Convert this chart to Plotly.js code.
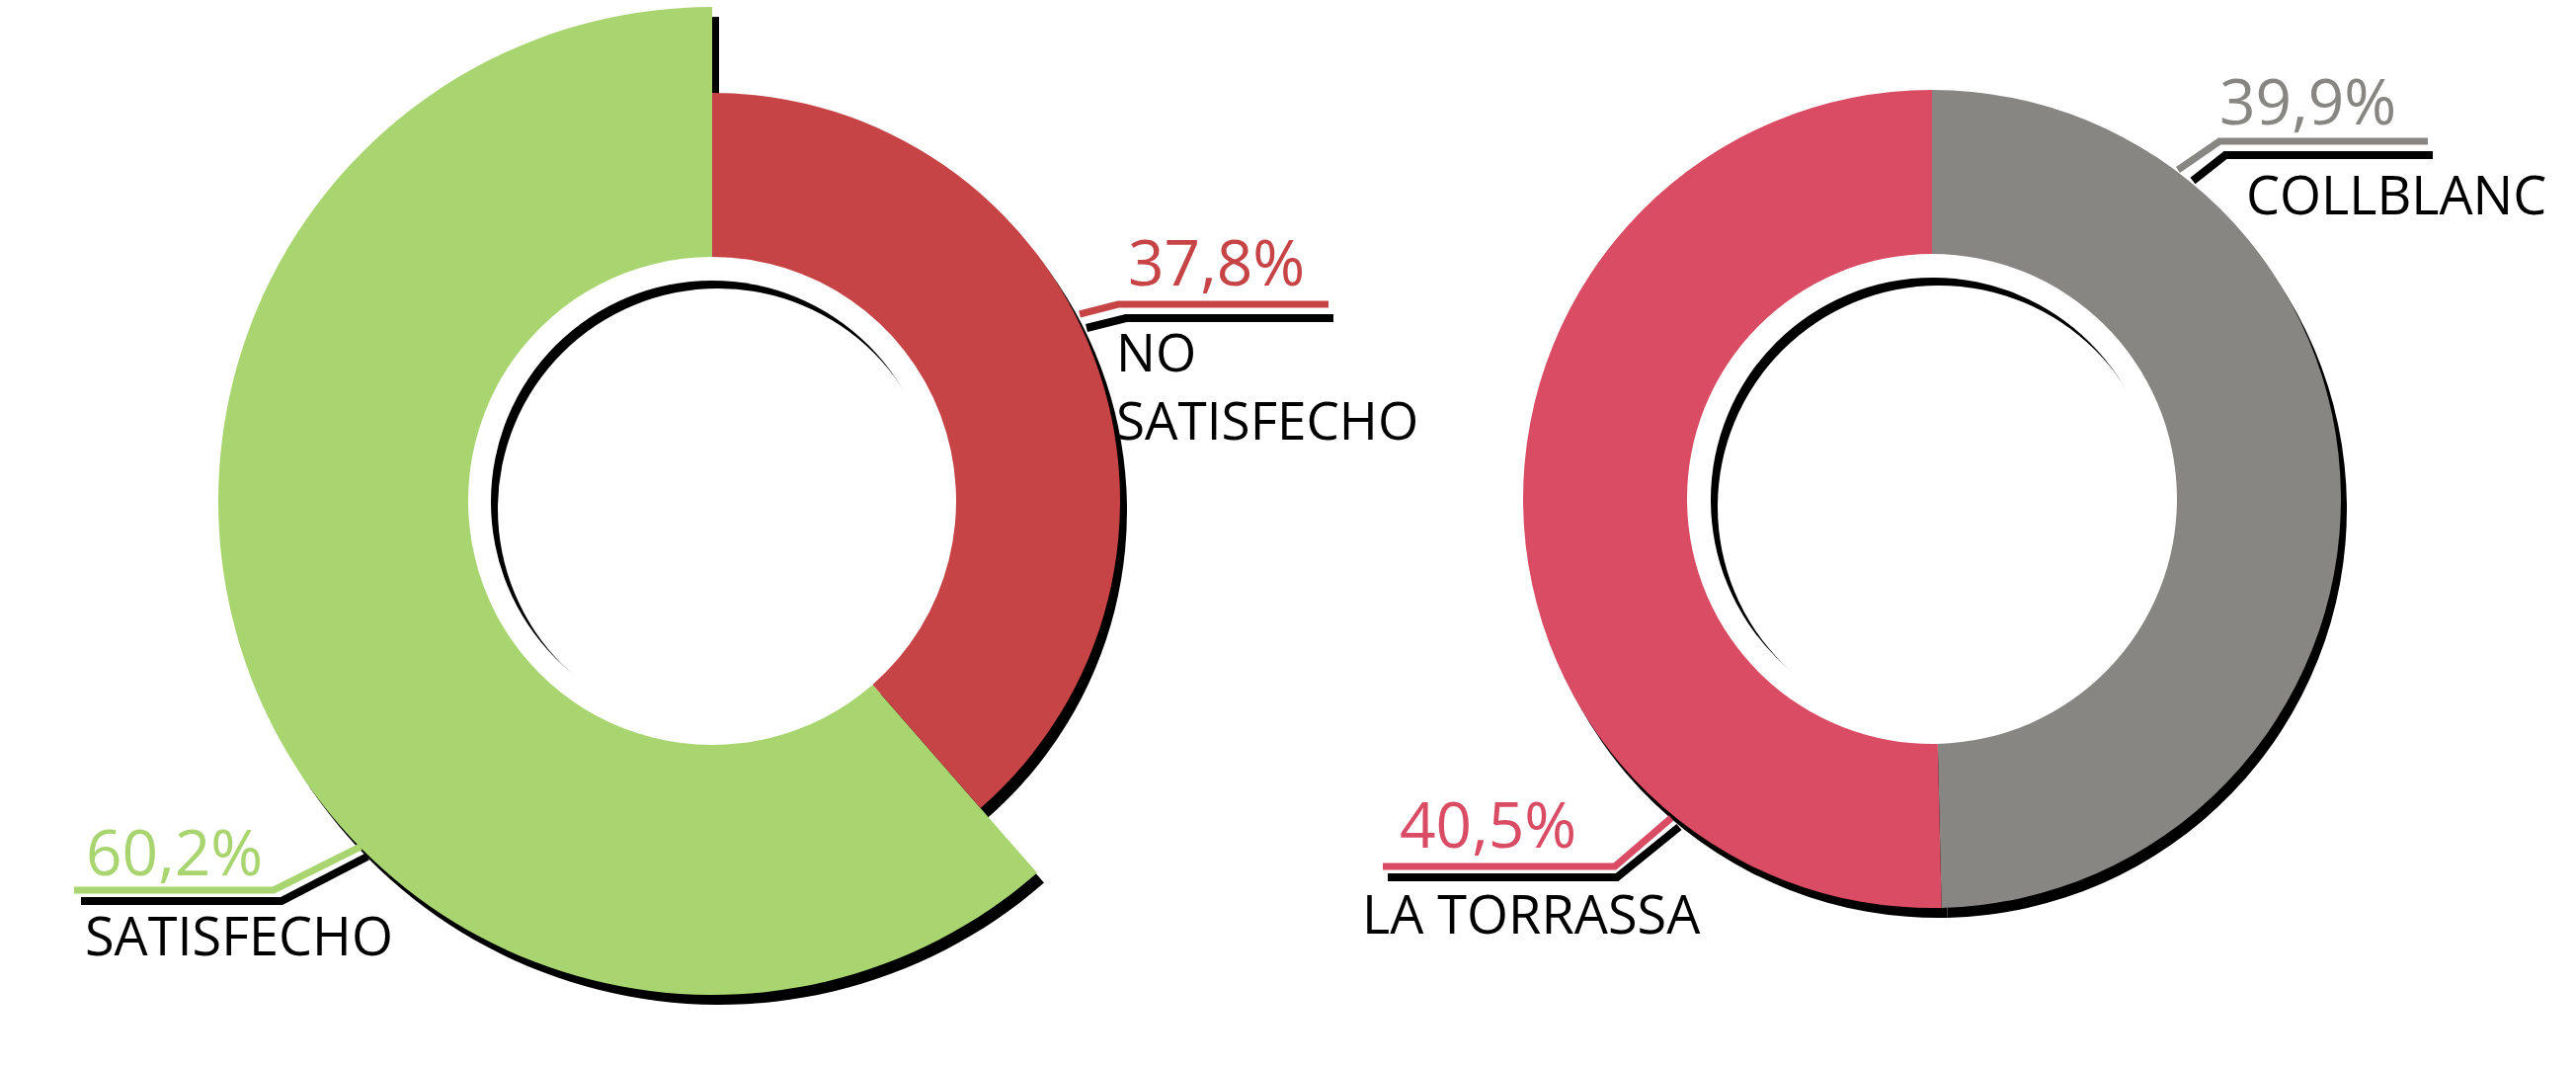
<!DOCTYPE html>
<html>
<head>
<meta charset="utf-8">
<script src="https://cdn.plot.ly/plotly-3.0.1.min.js"></script>
<style>
  html, body { margin: 0; padding: 0; background: #ffffff; }
  #chart { width: 2608px; height: 1080px; }
</style>
</head>
<body>
<div id="chart"></div>
<script>
// ---- data ----
const leftLabels = ['NO SATISFECHO', 'SATISFECHO'];
const leftValues = [37.8, 60.2];
const leftColors = ['#C64446', '#A9D571'];

const rightLabels = ['COLLBLANC', 'LA TORRASSA'];
const rightValues = [39.9, 40.5];
const rightColors = ['#878682', '#D94C63'];

const fullDisk = [1];

// ---- geometry (pixels) ----
const W = 2608, H = 1080;
const SH = {dx: 7, dy: 10};
const leftG = {cx: 721, cy: 507, rBig: 500, rSmall: 413, rHole: 247, rInner: 224};
const rightG = {cx: 1956, cy: 505, r: 414, rHole: 248, rInner: 225};

function dom(cx, cy, r) {
  return {x: [(cx - r) / W, (cx + r) / W], y: [1 - (cy + r) / H, 1 - (cy - r) / H]};
}
const T = 'rgba(0,0,0,0)';
function pie(values, labels, colors, d, hole) {
  return {
    type: 'pie', values: values, labels: labels, sort: false, direction: 'clockwise',
    rotation: 0, hole: hole, domain: d, textinfo: 'none', hoverinfo: 'none',
    marker: {colors: colors, line: {width: 0}}, showlegend: false
  };
}
function disk(cx, cy, r, color) {
  return pie(fullDisk, ['d'], [color], dom(cx, cy, r), 0);
}

const traces = [];
// shadows
traces.push(pie(leftValues, leftLabels, [T, '#000'], dom(leftG.cx + SH.dx, leftG.cy + SH.dy, leftG.rBig), leftG.rHole / leftG.rBig));
traces.push(pie(leftValues, leftLabels, ['#000', T], dom(leftG.cx + SH.dx, leftG.cy + SH.dy, leftG.rSmall), leftG.rHole / leftG.rSmall));
traces.push(pie(rightValues, rightLabels, ['#000', '#000'], dom(rightG.cx + SH.dx - 1, rightG.cy + SH.dy, rightG.r), rightG.rHole / rightG.r));
// cover shadow inside the holes
traces.push(disk(leftG.cx, leftG.cy, leftG.rHole + 2, '#ffffff'));
traces.push(disk(rightG.cx, rightG.cy, rightG.rHole + 2, '#ffffff'));
// coloured rings
traces.push(pie(leftValues, leftLabels, [T, leftColors[1]], dom(leftG.cx, leftG.cy, leftG.rBig), leftG.rHole / leftG.rBig));
traces.push(pie(leftValues, leftLabels, [leftColors[0], T], dom(leftG.cx, leftG.cy, leftG.rSmall), leftG.rHole / leftG.rSmall));
traces.push(pie(rightValues, rightLabels, rightColors, dom(rightG.cx, rightG.cy, rightG.r), rightG.rHole / rightG.r));
// inset inner circle
traces.push(disk(leftG.cx, leftG.cy + 1, leftG.rInner, '#000000'));
traces.push(disk(leftG.cx + 6, leftG.cy + 8, leftG.rInner - 1, '#ffffff'));
traces.push(disk(rightG.cx + 1, rightG.cy + 1, rightG.rInner, '#000000'));
traces.push(disk(rightG.cx + 7, rightG.cy + 8, rightG.rInner - 1, '#ffffff'));

// ---- labels ----
function pct(v) { return v.toFixed(1).replace('.', ',') + '%'; }
const FONT = '"Open Sans", "Noto Sans", sans-serif';
const annotations = [];
function txt(text, x, ymid, size, color) {
  annotations.push({text: text, x: x, y: ymid, xref: 'x', yref: 'y', xanchor: 'left', yanchor: 'middle',
    showarrow: false, font: {family: FONT, size: size, color: color}, borderpad: 0, align: 'left'});
}
txt(pct(leftValues[0]), 1141, 264, 64, leftColors[0]);
txt(leftLabels[0].split(' ').join('<br>'), 1129, 390, 53, '#000');
txt(pct(leftValues[1]), 86, 861, 64, leftColors[1]);
txt(leftLabels[1], 85, 946, 54, '#000');
txt(pct(rightValues[0]), 2246, 101, 64, rightColors[0]);
txt(rightLabels[0], 2273, 196, 54, '#000');
txt(pct(rightValues[1]), 1416, 833, 64, rightColors[1]);
txt(rightLabels[1], 1378, 924, 54, '#000');

const shapes = [];
function leader(pts, color, w) {
  const d = 'M ' + pts.map(p => p[0] + ',' + p[1]).join(' L ');
  shapes.push({type: 'path', path: d, xref: 'x', yref: 'y', layer: 'above',
    line: {color: color, width: w}});
}
leader([[1100, 332], [1140, 322], [1350, 322]], '#000', 8);
leader([[1093, 318], [1132, 308], [1345, 308]], leftColors[0], 7);
leader([[82, 912], [285, 912], [372, 867]], '#000', 8);
leader([[75, 901], [277, 901], [365, 857]], leftColors[1], 7);
leader([[2220, 183], [2253, 157], [2463, 157]], '#000', 8);
leader([[2205, 172], [2247, 143], [2458, 143]], rightColors[0], 7);
leader([[1405, 888], [1637, 888], [1700, 837]], '#000', 8);
leader([[1400, 877], [1635, 877], [1692, 828]], rightColors[1], 7);

const layout = {
  width: W, height: H,
  margin: {l: 0, r: 0, t: 0, b: 0, pad: 0},
  paper_bgcolor: '#ffffff', plot_bgcolor: 'rgba(0,0,0,0)',
  showlegend: false,
  xaxis: {range: [0, W], visible: false, fixedrange: true},
  yaxis: {range: [H, 0], visible: false, fixedrange: true},
  annotations: annotations,
  shapes: shapes
};

Plotly.newPlot('chart', traces, layout, {staticPlot: true, displayModeBar: false});
</script>
</body>
</html>
